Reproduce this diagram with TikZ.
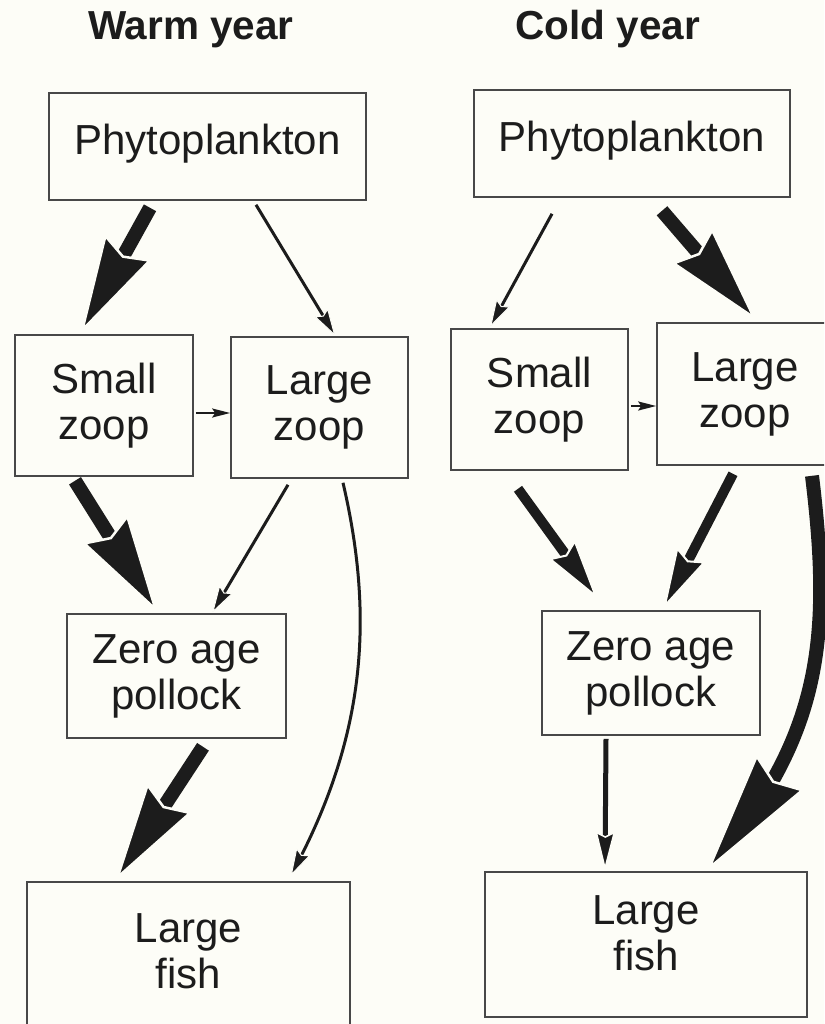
\documentclass[tikz,border=0pt]{standalone}
\usepackage{fontspec}
\setmainfont{Liberation Sans}
\usetikzlibrary{arrows.meta,bending,backgrounds}
\definecolor{paper}{RGB}{253,253,247}
\definecolor{ink}{RGB}{28,28,28}
\definecolor{edge}{RGB}{72,72,72}
\tikzset{
  box/.style={draw=edge,line width=1.6pt,align=center,inner sep=0pt,text=ink,font=\fontsize{42}{46}\selectfont},
  boxsize/.style 2 args={minimum width=#1pt,minimum height=#2pt},
  title/.style={anchor=base,text=ink,font=\fontsize{40.5}{44}\selectfont\bfseries},
  flow/.style={draw=ink,line width=#1},
  fatflow/.style={flow=14pt,-{Stealth[flex,length=100pt,width=54pt,inset=10pt,fill=ink,color=paper,line width=2.5pt]}},
  bigflow/.style={flow=14pt,-{Stealth[flex,length=125pt,width=60pt,inset=11pt,fill=ink,color=paper,line width=2.5pt]}},
  midflow/.style={flow=10pt,-{Stealth[flex,length=62pt,width=33pt,inset=7pt,fill=ink,color=paper,line width=2pt]}},
  slimflow/.style={flow=5pt,-{Stealth[flex,length=40pt,width=20pt,inset=5pt,fill=ink,color=paper,line width=1.5pt]}},
  thinflow/.style={flow=3pt,-{Stealth[flex,length=28pt,width=16pt,inset=4pt,fill=ink,color=paper,line width=1pt]}},
  tinyflow/.style={flow=2pt,-{Stealth[length=18pt,width=9pt,inset=3pt,fill=ink]}}
}
\begin{document}
\begin{tikzpicture}[x=1pt,y=-1pt]
\useasboundingbox (0,0) rectangle (824,1024);
\clip (0,0) rectangle (824,1024);

\node[title] (warm) at (191,40) {Warm year};
\node[title] (cold) at (608,40) {Cold year};

\node[box,boxsize={317}{107},text depth=14pt] (phyL) at (207.5,146.5) {Phytoplankton};
\node[box,boxsize={178}{141}] (smzL) at (104,405.5) {Small\\zoop};
\node[box,boxsize={177}{141}] (lgzL) at (319.5,407.5) {Large\\zoop};
\node[box,boxsize={219}{124}] (zapL) at (176.5,676) {Zero age\\pollock};
\node[box,boxsize={323}{160},text depth=22pt] (lfL) at (188.5,962) {Large\\fish};

\node[box,boxsize={316}{107},text depth=14pt] (phyR) at (632,143.5) {Phytoplankton};
\node[box,boxsize={177}{141}] (smzR) at (539.5,399.5) {Small\\zoop};
\node[box,boxsize={176}{142}] (lgzR) at (745,394) {Large\\zoop};
\node[box,boxsize={218}{124}] (zapR) at (651,673) {Zero age\\pollock};
\node[box,boxsize={322}{145},text depth=22pt] (lfR) at (646,944.5) {Large\\fish};

\begin{scope}[on background layer]
\fill[paper] (0,0) rectangle (824,1024);
% warm year
\draw[fatflow] ([shift={(-57.5,7)}]phyL.south) -- ([shift={(-24,0)}]smzL.north);
\draw[thinflow] ([shift={(48.5,4)}]phyL.south) -- ([shift={(16,0)}]lgzL.north);
\draw[tinyflow] ([shift={(2,7.5)}]smzL.east) -- ([shift={(0,5.5)}]lgzL.west);
\draw[fatflow] ([shift={(-29,4)}]smzL.south) -- ([shift={(-18.5,0)}]zapL.north);
\draw[thinflow] ([shift={(-31.5,6)}]lgzL.south) -- ([shift={(35.5,0)}]zapL.north);
\draw[thinflow] ([shift={(23.5,4)}]lgzL.south) .. controls (375,620) and (365,740) .. ([shift={(102,-5)}]lfL.north);
\draw[fatflow] ([shift={(26.5,8)}]zapL.south) -- ([shift={(-73.5,0)}]lfL.north);
% cold year
\draw[thinflow] ([shift={(-80,16)}]phyR.south) -- ([shift={(-49.5,-1)}]smzR.north);
\draw[fatflow] ([shift={(30,13)}]phyR.south) -- ([shift={(12,-1)}]lgzR.north);
\draw[tinyflow] ([shift={(2,6.5)}]smzR.east) -- ([shift={(0,12)}]lgzR.west);
\draw[midflow] ([shift={(-21.5,18)}]smzR.south) -- ([shift={(-53,-11)}]zapR.north);
\draw[midflow] ([shift={(-12,8)}]lgzR.south) -- ([shift={(12,-1)}]zapR.north);
\draw[slimflow] ([shift={(-45,3)}]zapR.south) -- ([shift={(-41,0)}]lfR.north);
\draw[bigflow] ([shift={(67,10)}]lgzR.south) .. controls (832,640) and (822,740) .. ([shift={(60,1)}]lfR.north);
\end{scope}
\end{tikzpicture}
\end{document}
